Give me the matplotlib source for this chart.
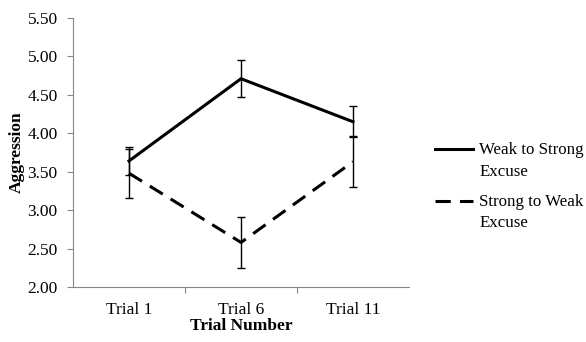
import matplotlib
matplotlib.use("Agg")
import matplotlib.pyplot as plt

# Data
trials = ["Trial 1", "Trial 6", "Trial 11"]
weakToStrong = [3.64, 4.71, 4.15]
weakToStrongErr = [0.18, 0.24, 0.20]
strongToWeak = [3.48, 2.58, 3.63]
strongToWeakErr = [0.32, 0.33, 0.33]
yTicks = [2.0, 2.5, 3.0, 3.5, 4.0, 4.5, 5.0, 5.5]

plt.rcParams['font.family'] = ['Liberation Serif', 'DejaVu Serif']
fs = 12.5

fig = plt.figure(figsize=(5.86, 3.42), dpi=100)
ax = fig.add_axes([73 / 586, 1 - 287 / 342, 336 / 586, 269 / 342])

x = [1, 2, 3]
ax.errorbar(x, weakToStrong, yerr=weakToStrongErr, color='black', lw=2.2,
            ecolor='black', elinewidth=1, capsize=3, capthick=1,
            label='Weak to Strong\nExcuse')
ax.errorbar(x, strongToWeak, yerr=strongToWeakErr, color='black', lw=2.2,
            ls=(0, (5, 3)), ecolor='black', elinewidth=1, capsize=3, capthick=1,
            label='Strong to Weak\nExcuse')

ax.set_xlim(0.5, 3.5)
ax.set_ylim(2.0, 5.5)
ax.set_yticks(yTicks)
ax.set_yticklabels(["%.2f" % v for v in yTicks], fontsize=fs)
# category boundaries get the tick marks, labels sit in between
ax.set_xticks([1.5, 2.5])
ax.set_xticklabels([])
ax.set_xticks([1, 2, 3], minor=True)
ax.set_xticklabels(trials, minor=True, fontsize=fs)
ax.tick_params(axis='x', which='minor', length=0, pad=11)
ax.tick_params(axis='x', which='major', length=4, color='#888888')
ax.tick_params(axis='y', length=4, color='#888888', pad=7)

for side in ['top', 'right']:
    ax.spines[side].set_visible(False)
for side in ['left', 'bottom']:
    ax.spines[side].set_color('#888888')

ax.set_ylabel("Aggression", fontsize=fs, fontweight='bold', labelpad=2)
ax.set_xlabel("Trial Number", fontsize=fs, fontweight='bold', labelpad=0)

handles, labels = ax.get_legend_handles_labels()
handles = [h[0] for h in handles]
leg = fig.legend(handles, labels, loc='upper left',
                 bbox_to_anchor=(420 / 586, 1 - 127 / 342),
                 frameon=False, fontsize=12.2, handlelength=2.25, labelspacing=0.85,
                 handletextpad=0.35)
for t in leg.get_texts():
    t.set_linespacing(1.45)
# put each legend line level with the first line of its label
for line in leg.get_lines():
    line.set_ydata([y + 8.5 for y in line.get_ydata()])

fig.savefig("out.png", dpi=100)
